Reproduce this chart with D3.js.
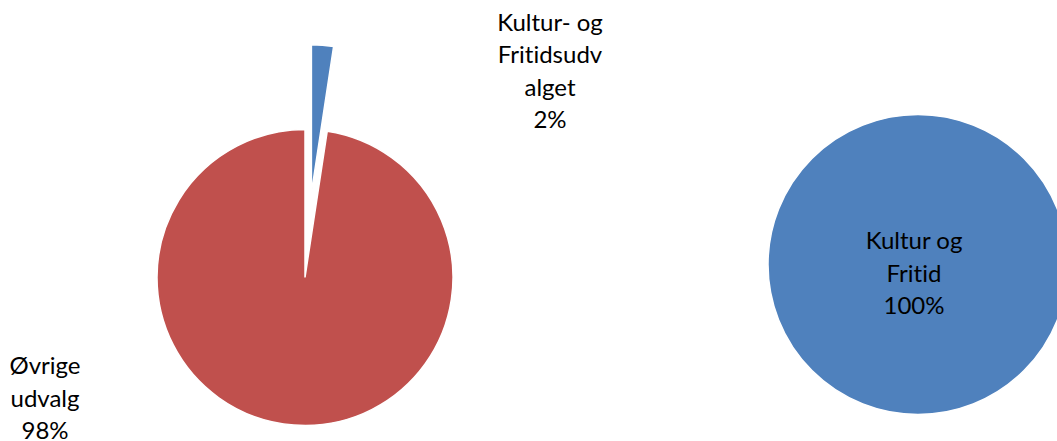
<!DOCTYPE html>
<html>
<head>
<meta charset="utf-8">
<script src="https://cdn.jsdelivr.net/npm/d3@7"></script>
<style>
    body { margin: 0; background: #fff; }
    svg text { font-family: Lato, "Open Sans", sans-serif; font-size: 24px; fill: #000; font-variant-ligatures: none; }
</style>
</head>
<body>
<div id="chart"></div>
<script>
// left pie: share of the budget
const leftCategories = ["Kultur- og Fritidsudvalget", "Øvrige udvalg"];
const leftValues = [2.4, 97.6];
const leftLabelLines = [["Kultur- og", "Fritidsudv", "alget"], ["Øvrige", "udvalg"]];

// right pie: breakdown of the culture committee
const rightCategories = ["Kultur og Fritid"];
const rightValues = [100];
const rightLabelLines = [["Kultur og", "Fritid"]];

const colors = ["#4f81bd", "#c0504d"];

const width = 1057, height = 441;
const lineHeight = 32.5;

const svg = d3.select("#chart")
    .append("svg")
    .attr("width", width)
    .attr("height", height);

function pct(v, values) {
    return Math.round(v / d3.sum(values) * 100) + "%";
}

function drawLabel(g, x, y, lines) {
    let t = g.append("text").attr("text-anchor", "middle");
    lines.forEach((line, i) => {
        t.append("tspan")
            .attr("x", x)
            .attr("y", y + i * lineHeight)
            .text(line);
    });
}

// left pie
let r1 = 148;
let left = svg.append("g").attr("transform", "translate(305,277.5)");
let pie = d3.pie().sort(null).value(d => d);
let arc1 = d3.arc().innerRadius(0).outerRadius(r1);
let leftArcs = pie(leftValues);
let explode = [85, 0];

left.selectAll("path")
    .data(leftArcs)
    .enter()
    .append("path")
    .attr("d", arc1)
    .attr("fill", (d, i) => colors[i])
    .attr("stroke", "#fff")
    .attr("stroke-width", 1.5)
    .attr("transform", (d, i) => {
        let a = (d.startAngle + d.endAngle) / 2;
        return "translate(" + (Math.sin(a) * explode[i]) + "," + (-Math.cos(a) * explode[i]) + ")";
    });

// label offsets from pie centre (best-fit placement)
let leftLabelPos = [[245, -247], [-260, 96.5]];
leftArcs.forEach((d, i) => {
    let lines = leftLabelLines[i].concat([pct(d.value, leftValues)]);
    drawLabel(left, leftLabelPos[i][0], leftLabelPos[i][1], lines);
});

// right pie
let r2 = 150;
let right = svg.append("g").attr("transform", "translate(918,264.5)");
let arc2 = d3.arc().innerRadius(0).outerRadius(r2);
let rightArcs = pie(rightValues);

right.selectAll("path")
    .data(rightArcs)
    .enter()
    .append("path")
    .attr("d", arc2)
    .attr("fill", colors[0])
    .attr("stroke", "#fff")
    .attr("stroke-width", 1.5);

rightArcs.forEach((d, i) => {
    let lines = rightLabelLines[i].concat([pct(d.value, rightValues)]);
    drawLabel(right, -4, -15.5, lines);
});
</script>
</body>
</html>
